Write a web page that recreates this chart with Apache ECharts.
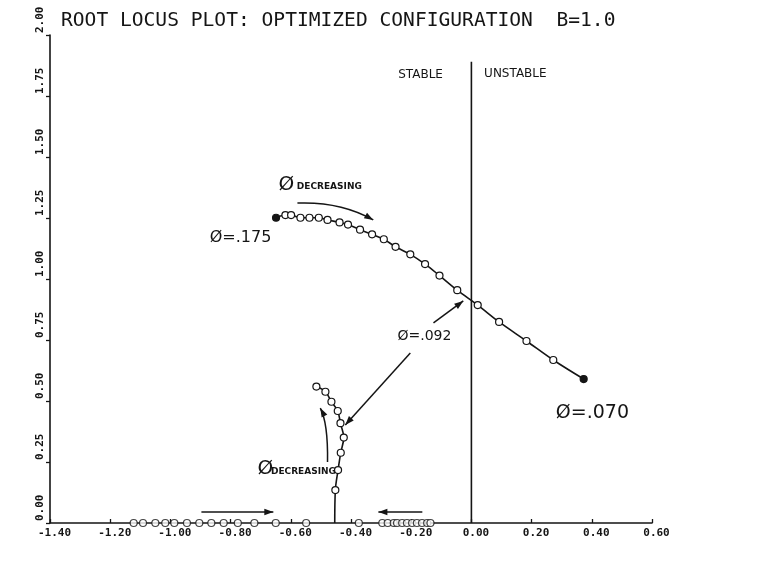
<!DOCTYPE html>
<html>
<head>
<meta charset="utf-8">
<script src="https://cdn.jsdelivr.net/npm/echarts@6/dist/echarts.min.js"></script>
<style>
  html, body { margin: 0; padding: 0; background: #fff; }
  #chart { width: 758px; height: 573px; }
</style>
</head>
<body>
<div id="chart"></div>
<script>
// upper (complex) branch of the locus
const upperX = [-0.649, -0.618, -0.599, -0.568, -0.538, -0.507, -0.478, -0.438, -0.410, -0.370, -0.330,
  -0.291, -0.252, -0.203, -0.154, -0.106, -0.047, 0.021, 0.092, 0.183, 0.272, 0.373];
const upperY = [1.251, 1.262, 1.262, 1.251, 1.251, 1.251, 1.242, 1.232, 1.223, 1.202, 1.183,
  1.163, 1.132, 1.101, 1.061, 1.014, 0.954, 0.893, 0.824, 0.746, 0.668, 0.590];

// lower branch leaving the real axis
const lowerX = [-0.515, -0.485, -0.465, -0.444, -0.435, -0.424, -0.434, -0.443, -0.452];
const lowerY = [0.559, 0.538, 0.497, 0.459, 0.409, 0.350, 0.288, 0.217, 0.135];
const breakawayX = -0.454;

// roots sitting on the real axis
const realX = [-1.122, -1.091, -1.050, -1.017, -0.987, -0.945, -0.904, -0.864, -0.823, -0.776, -0.721,
  -0.650, -0.549, -0.374, -0.296, -0.278, -0.258, -0.247, -0.230, -0.214, -0.197, -0.181, -0.164,
  -0.147, -0.136];

// stability boundary
const boundaryX = 0;
const boundaryTop = 1.89;

const xTicks = [-1.4, 0.6, 0.2];   // min, max, step
const yTicks = [0, 2, 0.25];

const INK = "#151515";
const MONO = "'DejaVu Sans Mono', 'Liberation Mono', monospace";
const HAND = "'DejaVu Sans', 'Liberation Sans', sans-serif";

const chart = echarts.init(document.getElementById("chart"));

const hollow = { color: "#fff", borderColor: INK, borderWidth: 1.2 };
const upperData = upperX.map((x, i) => {
  const end = i === 0 || i === upperX.length - 1;
  return { value: [x, upperY[i]], itemStyle: end ? { color: INK, borderColor: INK } : hollow };
});
const lowerData = lowerX.map((x, i) => ({ value: [x, lowerY[i]] }));
lowerData.push({ value: [breakawayX, 0], symbol: "none" });

chart.setOption({
  animation: false,
  backgroundColor: "#fff",
  title: {
    text: "ROOT LOCUS PLOT: OPTIMIZED CONFIGURATION  B=1.0",
    left: 56,
    top: 6,
    textStyle: { fontFamily: MONO, fontSize: 19.6, fontWeight: "normal", color: INK },
  },
  grid: { left: 50, right: 106, top: 35, bottom: 50 },
  xAxis: {
    type: "value",
    min: xTicks[0], max: xTicks[1], interval: xTicks[2],
    axisLine: { onZero: false, lineStyle: { color: INK, width: 1.6 } },
    axisTick: { inside: true, length: 4, lineStyle: { color: INK, width: 1.3 } },
    splitLine: { show: false },
    axisLabel: {
      margin: 5,
      padding: [0, 0, 0, 9],
      color: INK,
      fontFamily: MONO,
      fontSize: 11,
      fontWeight: "bold",
      formatter: (v) => v.toFixed(2),
    },
  },
  yAxis: {
    type: "value",
    min: yTicks[0], max: yTicks[1], interval: yTicks[2],
    axisLine: { onZero: false, lineStyle: { color: INK, width: 1.6 } },
    axisTick: { length: 4, lineStyle: { color: INK, width: 1.3 } },
    splitLine: { show: false },
    axisLabel: {
      rotate: 90,
      align: "left",
      verticalAlign: "bottom",
      margin: 4,
      padding: [0, 0, 0, 2],
      color: INK,
      fontFamily: MONO,
      fontSize: 11,
      fontWeight: "bold",
      formatter: (v) => v.toFixed(2),
    },
  },
  series: [
    {
      name: "boundary",
      type: "line",
      symbol: "none",
      lineStyle: { color: INK, width: 1.6 },
      data: [[boundaryX, 0], [boundaryX, boundaryTop]],
      z: 1,
    },
    {
      name: "upper",
      type: "line",
      smooth: 0.35,
      symbol: "circle",
      symbolSize: 7,
      lineStyle: { color: INK, width: 1.6 },
      itemStyle: hollow,
      data: upperData,
      z: 3,
    },
    {
      name: "lower",
      type: "line",
      smooth: 0.35,
      symbol: "circle",
      symbolSize: 7,
      lineStyle: { color: INK, width: 1.6 },
      itemStyle: hollow,
      data: lowerData,
      z: 3,
    },
    {
      name: "real",
      type: "scatter",
      symbol: "circle",
      symbolSize: 7,
      itemStyle: hollow,
      data: realX.map((x) => [x, 0]),
      z: 4,
    },
  ],
});

// hand-written annotations, placed in data coordinates
const labels = [
  { at: [-0.169, 1.836], text: "STABLE", size: 12, align: "center" },
  { at: [0.146, 1.840], text: "UNSTABLE", size: 12, align: "center" },
  { at: [-0.641, 1.385], text: "Ø", size: 20, align: "left" },
  { at: [-0.580, 1.380], text: "DECREASING", size: 9, align: "left", bold: true },
  { at: [-0.767, 1.168], text: "Ø=.175", size: 16, align: "center" },
  { at: [-0.156, 0.766], text: "Ø=.092", size: 14, align: "center" },
  { at: [0.402, 0.451], text: "Ø=.070", size: 19, align: "center" },
  { at: [-0.711, 0.222], text: "Ø", size: 20, align: "left" },
  { at: [-0.666, 0.210], text: "DECREASING", size: 9, align: "left", bold: true },
];
const straightArrows = [
  { from: [-0.126, 0.820], to: [-0.027, 0.910] },
  { from: [-0.203, 0.697], to: [-0.419, 0.402] },
  { from: [-0.897, 0.045], to: [-0.658, 0.045] },
  { from: [-0.163, 0.045], to: [-0.309, 0.045] },
];
const curvedArrows = [
  { from: [-0.578, 1.311], ctrl: [-0.435, 1.318], to: [-0.326, 1.242] },
  { from: [-0.478, 0.250], ctrl: [-0.476, 0.410], to: [-0.502, 0.471] },
];

const toPx = (p) => chart.convertToPixel({ gridIndex: 0 }, p);

function arrowHead(from, tip) {
  const dx = tip[0] - from[0];
  const dy = tip[1] - from[1];
  const L = Math.hypot(dx, dy) || 1;
  const ux = dx / L, uy = dy / L;
  const len = 9, w = 3.2;
  const bx = tip[0] - ux * len, by = tip[1] - uy * len;
  return [tip, [bx - uy * w, by + ux * w], [bx + uy * w, by - ux * w]];
}

const graphics = [];
labels.forEach((l) => {
  const [x, y] = toPx(l.at);
  graphics.push({
    type: "text",
    x, y,
    style: {
      text: l.text,
      fill: INK,
      fontFamily: HAND,
      fontSize: l.size,
      fontWeight: l.bold ? "bold" : "normal",
      align: l.align, textAlign: l.align,
      verticalAlign: "middle", textVerticalAlign: "middle",
    },
  });
});
straightArrows.forEach((a) => {
  const p1 = toPx(a.from), p2 = toPx(a.to);
  graphics.push({
    type: "line",
    shape: { x1: p1[0], y1: p1[1], x2: p2[0], y2: p2[1] },
    style: { stroke: INK, lineWidth: 1.5 },
  });
  graphics.push({ type: "polygon", shape: { points: arrowHead(p1, p2) }, style: { fill: INK } });
});
curvedArrows.forEach((a) => {
  const p1 = toPx(a.from), c = toPx(a.ctrl), p2 = toPx(a.to);
  graphics.push({
    type: "bezierCurve",
    shape: { x1: p1[0], y1: p1[1], cpx1: c[0], cpy1: c[1], x2: p2[0], y2: p2[1] },
    style: { stroke: INK, lineWidth: 1.5, fill: null },
  });
  graphics.push({ type: "polygon", shape: { points: arrowHead(c, p2) }, style: { fill: INK } });
});

chart.setOption({ graphic: graphics });
</script>
</body>
</html>
